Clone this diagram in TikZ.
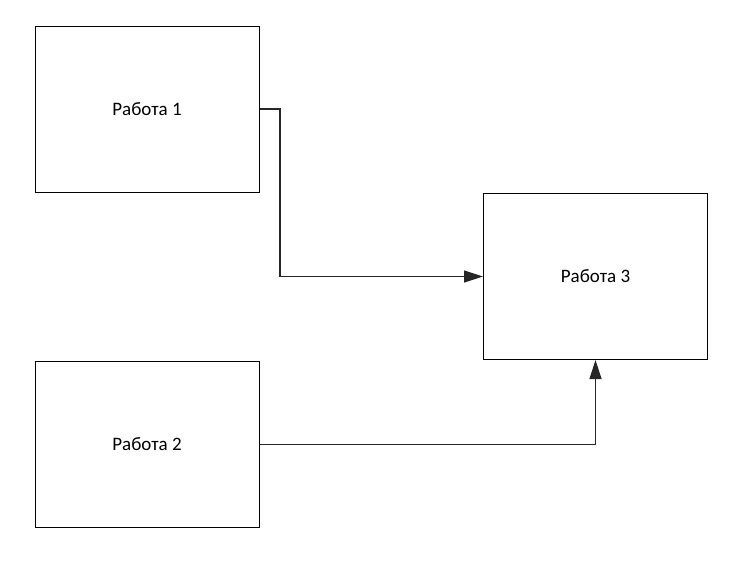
\documentclass[tikz,border=0pt]{standalone}
\usepackage{fontspec}
\setmainfont{Carlito}
\usetikzlibrary{arrows.meta}
\begin{document}
\begin{tikzpicture}[x=1pt,y=-1pt,
  box/.style={draw=black,line width=1pt,minimum width=224pt,minimum height=166pt,inner sep=0pt,font=\fontsize{19}{22}\selectfont},
  conn/.style={draw=black!85,line width=1.3pt,-{Triangle[length=19pt,width=12pt]}}]
\useasboundingbox (0,0) rectangle (745,571);
\node[box] (r1) at (147,109) {Работа 1};
\node[box] (r2) at (147,444.5) {Работа 2};
\node[box] (r3) at (595.5,276.5) {Работа 3};
\coordinate (b1) at (280,109);
\draw[conn] (r1.east |- b1) -- (b1) |- (r3.west);
\draw[conn] (r2.east) -| (r3.south);
\end{tikzpicture}
\end{document}
